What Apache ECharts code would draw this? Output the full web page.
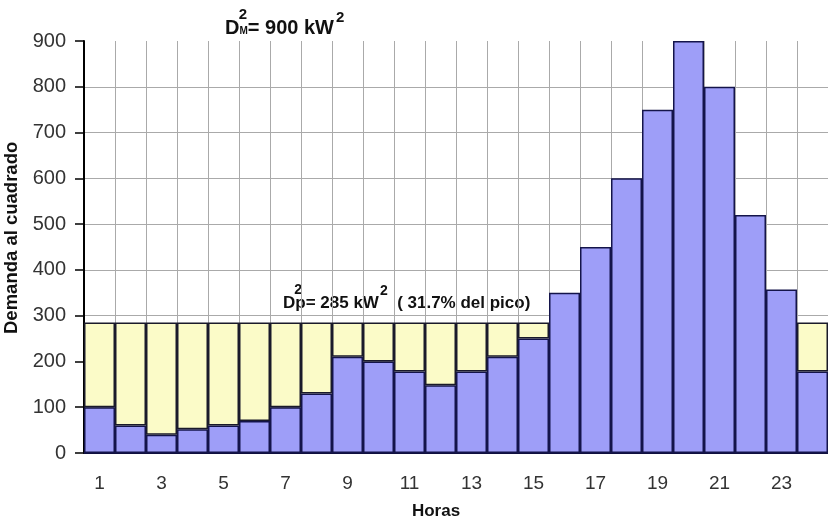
<!DOCTYPE html>
<html><head><meta charset="utf-8">
<script src="https://cdn.jsdelivr.net/npm/echarts@6/dist/echarts.min.js"></script>
<style>html,body{margin:0;padding:0;background:#fff}#c{width:828px;height:525px}</style>
</head><body><div id="c"></div>
<script>
// Data
const hours = ['1','2','3','4','5','6','7','8','9','10','11','12','13','14','15','16','17','18','19','20','21','22','23','24'];
const demand2 = [100, 60, 40, 52, 60, 70, 100, 130, 210, 200, 178, 148, 178, 210, 250, 350, 450, 600, 750, 900, 800, 520, 357, 178];
const mean2 = 285;      // Dp^2
const peak2 = 900;      // DM^2
const yMax = 900;
const yStep = 100;

// Yellow fill up to the mean level (built from the data)
const fill2 = demand2.map(v => v < mean2 ? mean2 - v : '-');

const FONT = '"Liberation Sans", Arial, sans-serif';
const gridColors = [];
for (let v = 0; v <= yMax; v += yStep) gridColors.push(v === yMax ? 'rgba(0,0,0,0)' : '#aaaaaa');

// text layout helper for annotations with superscripts (b = baseline)
const mctx = document.createElement('canvas').getContext('2d');
function layout(pieces, x0) {
  const out = [];
  let x = x0;
  pieces.forEach(p => {
    const font = 'bold ' + p.size + 'px ' + FONT;
    mctx.font = font;
    const w = mctx.measureText(p.t).width;
    const px = p.dx != null ? x + p.dx : x;
    out.push({type: 'text', x: px, y: p.b - 0.35 * p.size, silent: true,
      style: {text: p.t, font: font, fill: '#111', textVerticalAlign: 'middle'}});
    if (!p.noAdvance) x = px + w;
  });
  return out;
}

const topAnn = layout([
  {t: 'D', size: 20, b: 35},
  {t: 'M', size: 10, b: 35},
  {t: '2', size: 15, b: 20, dx: -9, noAdvance: true},
  {t: '= ' + peak2 + ' kW', size: 20, b: 35},
  {t: '2', size: 15, b: 23, dx: 2}
], 225);

const midAnn = layout([
  {t: 'D', size: 17, b: 309},
  {t: '2', size: 14, b: 295, dx: -1, noAdvance: true},
  {t: 'p', size: 17, b: 309},
  {t: '= ' + mean2 + ' kW', size: 17, b: 309},
  {t: '2', size: 14, b: 296, dx: 1},
  {t: '  ( ' + (mean2 / peak2 * 100).toFixed(1) + '% del pico)', size: 17, b: 309}
], 283);

const chart = echarts.init(document.getElementById('c'), null, {renderer: 'canvas'});
chart.setOption({
  animation: false,
  backgroundColor: '#ffffff',
  grid: {left: 84, top: 41, width: 747, height: 412, containLabel: false},
  xAxis: {
    type: 'category',
    data: hours,
    boundaryGap: true,
    axisLine: {show: true, lineStyle: {color: '#101040', width: 2}},
    axisTick: {show: false},
    axisLabel: {interval: 1, margin: 21, color: '#333', fontSize: 19, fontFamily: FONT},
    splitLine: {show: true, interval: 0, lineStyle: {color: '#aaaaaa', width: 1}}
  },
  yAxis: {
    type: 'value',
    min: 0, max: yMax, interval: yStep,
    axisLine: {show: true, lineStyle: {color: '#000', width: 2}},
    axisTick: {show: true, length: 9, lineStyle: {color: '#000', width: 1.5}},
    axisLabel: {margin: 18, color: '#333', fontSize: 20, fontFamily: FONT},
    splitLine: {show: true, lineStyle: {color: gridColors, width: 1}}
  },
  series: [
    {
      type: 'bar', stack: 'd', data: demand2, barCategoryGap: '0%',
      itemStyle: {color: '#9e9ef8', borderColor: '#14144a', borderWidth: 1.5}
    },
    {
      type: 'bar', stack: 'd', data: fill2, barCategoryGap: '0%',
      itemStyle: {color: '#fbfbc8', borderColor: '#1a1a2a', borderWidth: 1.5}
    }
  ],
  graphic: [
    {type: 'text', x: 12, y: 334, rotation: Math.PI / 2, silent: true,
     style: {text: 'Demanda al cuadrado', fill: '#111', font: 'bold 18.5px ' + FONT, textAlign: 'left', textVerticalAlign: 'middle'}},
    {type: 'text', x: 436, y: 511, silent: true,
     style: {text: 'Horas', fill: '#111', font: 'bold 17px ' + FONT, textAlign: 'center', textVerticalAlign: 'middle'}}
  ].concat(topAnn, midAnn)
});
</script>
</body></html>
